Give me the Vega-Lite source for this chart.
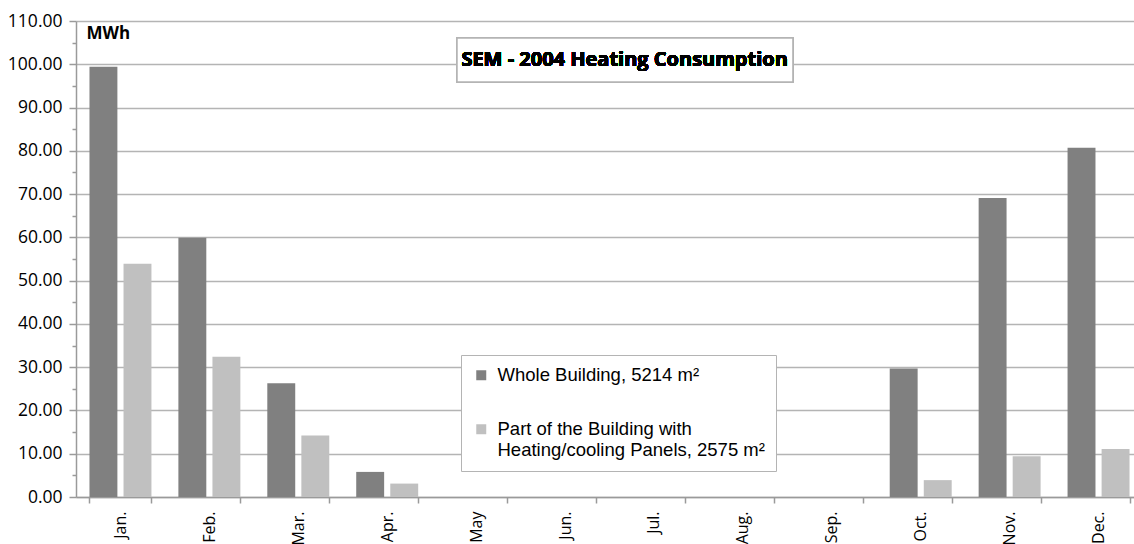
{
  "$schema": "https://vega.github.io/schema/vega-lite/v6.json",
  "width": 1058,
  "height": 476,
  "autosize": {"type": "none"},
  "padding": {"left": 76, "top": 21, "right": 0, "bottom": 47},
  "background": "white",
  "config": {"view": {"stroke": null}, "font": "Open Sans"},
  "data": {
    "values": [
      {"month": "Jan.", "series": "Whole Building, 5214 m²", "mwh": 99.4},
      {"month": "Jan.", "series": "Part of the Building with|Heating/cooling Panels, 2575 m²", "mwh": 53.9},
      {"month": "Feb.", "series": "Whole Building, 5214 m²", "mwh": 59.9},
      {"month": "Feb.", "series": "Part of the Building with|Heating/cooling Panels, 2575 m²", "mwh": 32.4},
      {"month": "Mar.", "series": "Whole Building, 5214 m²", "mwh": 26.3},
      {"month": "Mar.", "series": "Part of the Building with|Heating/cooling Panels, 2575 m²", "mwh": 14.2},
      {"month": "Apr.", "series": "Whole Building, 5214 m²", "mwh": 5.8},
      {"month": "Apr.", "series": "Part of the Building with|Heating/cooling Panels, 2575 m²", "mwh": 3.1},
      {"month": "May", "series": "Whole Building, 5214 m²", "mwh": 0},
      {"month": "May", "series": "Part of the Building with|Heating/cooling Panels, 2575 m²", "mwh": 0},
      {"month": "Jun.", "series": "Whole Building, 5214 m²", "mwh": 0},
      {"month": "Jun.", "series": "Part of the Building with|Heating/cooling Panels, 2575 m²", "mwh": 0},
      {"month": "Jul.", "series": "Whole Building, 5214 m²", "mwh": 0},
      {"month": "Jul.", "series": "Part of the Building with|Heating/cooling Panels, 2575 m²", "mwh": 0},
      {"month": "Aug.", "series": "Whole Building, 5214 m²", "mwh": 0},
      {"month": "Aug.", "series": "Part of the Building with|Heating/cooling Panels, 2575 m²", "mwh": 0},
      {"month": "Sep.", "series": "Whole Building, 5214 m²", "mwh": 0},
      {"month": "Sep.", "series": "Part of the Building with|Heating/cooling Panels, 2575 m²", "mwh": 0},
      {"month": "Oct.", "series": "Whole Building, 5214 m²", "mwh": 29.7},
      {"month": "Oct.", "series": "Part of the Building with|Heating/cooling Panels, 2575 m²", "mwh": 3.9},
      {"month": "Nov.", "series": "Whole Building, 5214 m²", "mwh": 69.1},
      {"month": "Nov.", "series": "Part of the Building with|Heating/cooling Panels, 2575 m²", "mwh": 9.4},
      {"month": "Dec.", "series": "Whole Building, 5214 m²", "mwh": 80.7},
      {"month": "Dec.", "series": "Part of the Building with|Heating/cooling Panels, 2575 m²", "mwh": 11.1}
    ]
  },
  "resolve": {"scale": {"x": "independent"}, "axis": {"y": "independent"}},
  "layer": [
    {
      "mark": {"type": "bar"},
      "encoding": {
        "x": {
          "field": "month",
          "type": "nominal",
          "sort": null,
          "scale": {"range": [0, 1067], "paddingInner": 0.303, "paddingOuter": 0.1515},
          "axis": {
            "title": null,
            "tickBand": "extent",
            "labelAngle": 270,
            "labelAlign": "right",
            "labelBaseline": "middle",
            "labelFont": "Open Sans",
            "labelFontSize": 16,
            "labelColor": "#000000",
            "labelPadding": 8,
            "tickColor": "#9a9a9a",
            "tickSize": 6,
            "tickWidth": 1.5,
            "domainColor": "#9a9a9a",
            "domainWidth": 1.5,
            "grid": false
          }
        },
        "xOffset": {
          "field": "series",
          "type": "nominal",
          "scale": {
            "domain": ["Whole Building, 5214 m²", "Part of the Building with|Heating/cooling Panels, 2575 m²"],
            "paddingInner": 0.18
          }
        },
        "y": {
          "field": "mwh",
          "type": "quantitative",
          "scale": {"domain": [0, 110], "nice": false},
          "axis": {
            "orient": "left",
            "values": [0, 5, 10, 15, 20, 25, 30, 35, 40, 45, 50, 55, 60, 65, 70, 75, 80, 85, 90, 95, 100, 105, 110],
            "labelExpr": "datum.value % 10 === 0 ? format(datum.value, '.2f') : ''",
            "labelFont": "Open Sans",
            "labelFontSize": 17.5,
            "labelColor": "#000000",
            "labelPadding": 7,
            "tickSize": {"condition": {"test": "datum.value % 10 === 0", "value": 7}, "value": 4},
            "tickColor": "#9a9a9a",
            "tickWidth": 1.5,
            "domainColor": "#9a9a9a",
            "domainWidth": 1.5,
            "grid": true,
            "gridColor": "#b4b4b4",
            "gridWidth": 1.5,
            "gridOpacity": {"condition": {"test": "datum.value % 10 === 0", "value": 1}, "value": 0},
            "title": "MWh",
            "titleAngle": 0,
            "titleX": 10,
            "titleY": 12,
            "titleAlign": "left",
            "titleBaseline": "middle",
            "titleFont": "Open Sans",
            "titleFontSize": 17,
            "titleFontWeight": "bold",
            "titleColor": "#000000"
          }
        },
        "color": {
          "field": "series",
          "type": "nominal",
          "scale": {
            "domain": ["Whole Building, 5214 m²", "Part of the Building with|Heating/cooling Panels, 2575 m²"],
            "range": ["#808080", "#c0c0c0"]
          },
          "legend": {
            "title": null,
            "orient": "none",
            "legendX": 385,
            "legendY": 334,
            "padding": 11,
            "strokeColor": "#b4b4b4",
            "fillColor": "#ffffff",
            "symbolType": "square",
            "symbolSize": 100,
            "symbolStrokeWidth": 0,
            "labelFont": "Liberation Sans",
            "labelFontSize": 18.5,
            "labelColor": "#000000",
            "labelOffset": 7,
            "labelLimit": 500,
            "rowPadding": 35,
            "labelExpr": "split(datum.label, '|')"
          }
        }
      }
    },
    {
      "mark": {"type": "rect", "fill": "#ffffff", "stroke": "#b4b4b4", "strokeWidth": 1.5},
      "encoding": {
        "x": {"datum": 4.285, "type": "quantitative", "scale": {"domain": [0, 12], "range": [0, 1067]}, "axis": null},
        "x2": {"datum": 8.063},
        "y": {"datum": 106.1, "type": "quantitative", "axis": null},
        "y2": {"datum": 95.9}
      }
    },
    {
      "mark": {"type": "text", "font": "Open Sans", "fontSize": 20, "fontWeight": "bold", "color": "#000000", "align": "center", "baseline": "middle"},
      "encoding": {
        "x": {"datum": 6.17, "type": "quantitative", "scale": {"domain": [0, 12], "range": [0, 1067]}, "axis": null},
        "y": {"datum": 100.9, "type": "quantitative", "axis": null},
        "text": {"value": "SEM - 2004 Heating Consumption"}
      }
    }
  ]
}
